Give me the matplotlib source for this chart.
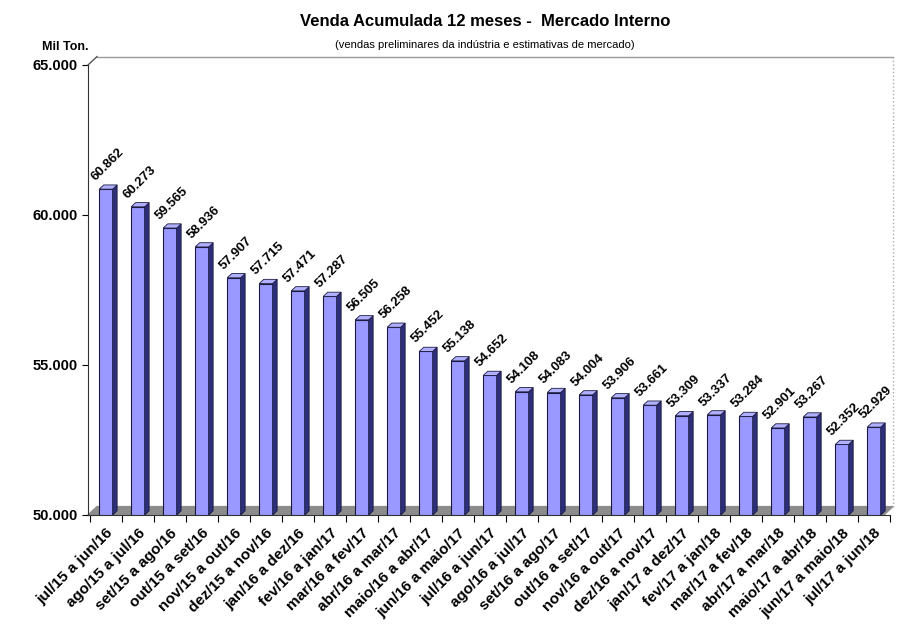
import matplotlib.pyplot as plt
from matplotlib.patches import Polygon
from matplotlib.ticker import FuncFormatter

periods = ['jul/15 a jun/16', 'ago/15 a jul/16', 'set/15 a ago/16', 'out/15 a set/16',
           'nov/15 a out/16', 'dez/15 a nov/16', 'jan/16 a dez/16', 'fev/16 a jan/17',
           'mar/16 a fev/17', 'abr/16 a mar/17', 'maio/16 a abr/17', 'jun/16 a maio/17',
           'jul/16 a jun/17', 'ago/16 a jul/17', 'set/16 a ago/17', 'out/16 a set/17',
           'nov/16 a out/17', 'dez/16 a nov/17', 'jan/17 a dez/17', 'fev/17 a jan/18',
           'mar/17 a fev/18', 'abr/17 a mar/18', 'maio/17 a abr/18', 'jun/17 a maio/18',
           'jul/17 a jun/18']
vendas = [60.862, 60.273, 59.565, 58.936, 57.907, 57.715, 57.471, 57.287, 56.505,
          56.258, 55.452, 55.138, 54.652, 54.108, 54.083, 54.004, 53.906, 53.661,
          53.309, 53.337, 53.284, 52.901, 53.267, 52.352, 52.929]

plt.rcParams['font.family'] = ['Liberation Sans', 'DejaVu Sans']

fig = plt.figure(figsize=(9.05, 6.38), dpi=100)
ax = fig.add_axes([88 / 905, 1 - 515 / 638, 802 / 905, 450 / 638])

base = 50
w = 0.42
dx = 0.14
dy = 0.14

xs = list(range(len(vendas)))
ax.set_xlim(-0.56, len(vendas) - 0.69)
ax.set_ylim(50, 65)

# chao cinza e parede de fundo
x0, x1 = ax.get_xlim()
ax.add_patch(Polygon([(x0, base), (x1, base), (x1 + 2 * dx, base + 2 * dy), (x0 + 2 * dx, base + 2 * dy)],
                     closed=True, facecolor='#8c8c8c', edgecolor='#8c8c8c', clip_on=False, zorder=1))
ax.plot([x0 + 2 * dx, x1 + 2 * dx], [65 + 2 * dy, 65 + 2 * dy], color='#999999', lw=1, clip_on=False)
ax.plot([x0, x0 + 2 * dx], [65, 65 + 2 * dy], color='#555555', lw=1, clip_on=False)
ax.plot([x1 + 2 * dx, x1 + 2 * dx], [base + 2 * dy, 65 + 2 * dy], color='#aaaaaa', lw=1, ls=':', clip_on=False)

ax.bar(xs, [v - base for v in vendas], bottom=base, width=w, color='#9999ff',
       edgecolor='#1a1a40', linewidth=0.8, zorder=3)
for x, v in zip(xs, vendas):
    r = x + w / 2
    l = x - w / 2
    ax.add_patch(Polygon([(r, base), (r + dx, base + dy), (r + dx, v + dy), (r, v)],
                         closed=True, facecolor='#2e2e7a', edgecolor='#1a1a40', lw=0.6, zorder=3))
    ax.add_patch(Polygon([(l, v), (r, v), (r + dx, v + dy), (l + dx, v + dy)],
                         closed=True, facecolor='#b0b0ff', edgecolor='#1a1a40', lw=0.6, zorder=3))
    ax.text(l - 0.05, v + 0.2, f'{v:.3f}', rotation=45, ha='left', va='bottom',
            rotation_mode='anchor', fontsize=9.5, fontweight='bold', zorder=4)

for s in ['top', 'right']:
    ax.spines[s].set_visible(False)
ax.spines['bottom'].set_color('#333333')
ax.spines['left'].set_color('#333333')

ax.set_yticks([50, 55, 60, 65])
ax.yaxis.set_major_formatter(FuncFormatter(lambda v, p: f'{v:.3f}'))
ax.tick_params(axis='y', labelsize=10.5, length=4)
for t in ax.get_yticklabels():
    t.set_fontweight('bold')

ax.set_xticks([x - 0.5 for x in xs] + [xs[-1] + 0.5])
ax.set_xticklabels([])
ax.set_xticks(xs, minor=True)
ax.set_xticklabels(periods, minor=True, rotation=45, ha='right', rotation_mode='anchor',
                   fontsize=11, fontweight='bold')
ax.tick_params(axis='x', which='minor', length=0, pad=8)
ax.tick_params(axis='x', which='major', length=5)

fig.text(485 / 905, 1 - 22 / 638, 'Venda Acumulada 12 meses -  Mercado Interno',
         ha='center', va='center', fontsize=12, fontweight='bold')
fig.text(485 / 905, 1 - 45 / 638, '(vendas preliminares da indústria e estimativas de mercado)',
         ha='center', va='center', fontsize=8)
fig.text(65 / 905, 1 - 47 / 638, 'Mil Ton.', ha='center', va='center', fontsize=9,
         fontweight='bold')

fig.savefig('out.png', dpi=100)
